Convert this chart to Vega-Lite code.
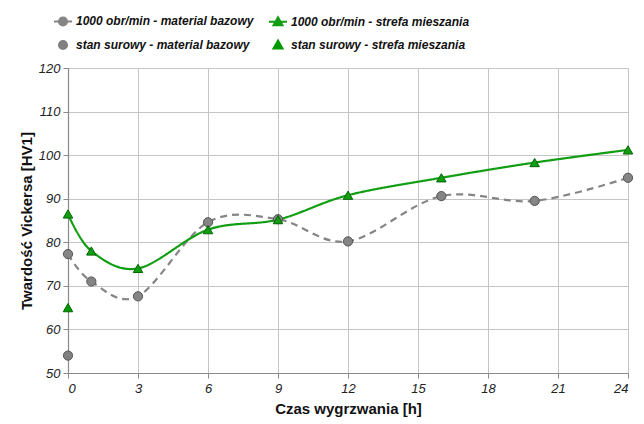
{
  "$schema": "https://vega.github.io/schema/vega-lite/v6.json",
  "width": 560,
  "height": 305,
  "autosize": {"type": "none"},
  "padding": {"left": 68, "top": 68, "right": 16, "bottom": 51},
  "background": "white",
  "config": {
    "font": "Liberation Sans",
    "view": {"stroke": null},
    "axis": {
      "gridColor": "#c4c4c4",
      "gridWidth": 1,
      "domainColor": "#8a8a8a",
      "domainWidth": 1.2,
      "tickColor": "#8a8a8a",
      "tickSize": 5,
      "labelFont": "Liberation Sans",
      "labelFontStyle": "italic",
      "labelFontSize": 13,
      "labelColor": "#222222",
      "titleFont": "Liberation Sans",
      "titleFontSize": 15,
      "titleFontWeight": "bold",
      "titleColor": "#111111"
    }
  },
  "data": {
    "values": [
      {"seria": "1000 obr/min - material bazowy", "t": 0, "hv": 77.3},
      {"seria": "1000 obr/min - material bazowy", "t": 1, "hv": 71.0},
      {"seria": "1000 obr/min - material bazowy", "t": 3, "hv": 67.6},
      {"seria": "1000 obr/min - material bazowy", "t": 6, "hv": 84.6},
      {"seria": "1000 obr/min - material bazowy", "t": 9, "hv": 85.3},
      {"seria": "1000 obr/min - material bazowy", "t": 12, "hv": 80.2},
      {"seria": "1000 obr/min - material bazowy", "t": 16, "hv": 90.6},
      {"seria": "1000 obr/min - material bazowy", "t": 20, "hv": 89.5},
      {"seria": "1000 obr/min - material bazowy", "t": 24, "hv": 94.8},
      {"seria": "1000 obr/min - strefa mieszania", "t": 0, "hv": 86.5},
      {"seria": "1000 obr/min - strefa mieszania", "t": 1, "hv": 78.0},
      {"seria": "1000 obr/min - strefa mieszania", "t": 3, "hv": 74.0},
      {"seria": "1000 obr/min - strefa mieszania", "t": 6, "hv": 82.9},
      {"seria": "1000 obr/min - strefa mieszania", "t": 9, "hv": 85.2},
      {"seria": "1000 obr/min - strefa mieszania", "t": 12, "hv": 90.8},
      {"seria": "1000 obr/min - strefa mieszania", "t": 16, "hv": 94.8},
      {"seria": "1000 obr/min - strefa mieszania", "t": 20, "hv": 98.3},
      {"seria": "1000 obr/min - strefa mieszania", "t": 24, "hv": 101.2},
      {"seria": "stan surowy - material bazowy", "t": 0, "hv": 54.0},
      {"seria": "stan surowy - strefa mieszania", "t": 0, "hv": 65.0}
    ]
  },
  "encoding": {
    "x": {
      "field": "t",
      "type": "quantitative",
      "title": "Czas wygrzwania [h]",
      "scale": {"domain": [0, 24], "nice": false},
      "axis": {"values": [0, 3, 6, 9, 12, 15, 18, 21, 24], "labelPadding": 4, "titlePadding": 6}
    },
    "y": {
      "field": "hv",
      "type": "quantitative",
      "title": "Twardość Vickersa [HV1]",
      "scale": {"domain": [50, 120], "nice": false},
      "axis": {"values": [50, 60, 70, 80, 90, 100, 110, 120], "labelPadding": 3, "titlePadding": 4}
    },
    "color": {
      "field": "seria",
      "type": "nominal",
      "scale": {
        "domain": ["1000 obr/min - material bazowy", "1000 obr/min - strefa mieszania", "stan surowy - material bazowy", "stan surowy - strefa mieszania"],
        "range": ["#858585", "#129e12", "#808080", "#009900"]
      },
      "legend": {
        "title": null,
        "orient": "none",
        "legendX": -15,
        "legendY": -57,
        "direction": "horizontal",
        "columns": 2,
        "columnPadding": 11,
        "rowPadding": 5,
        "symbolSize": 324,
        "symbolStrokeWidth": 2,
        "labelOffset": 3,
        "labelFont": "Liberation Sans",
        "labelFontSize": 12,
        "labelFontWeight": "bold",
        "labelFontStyle": "italic",
        "labelColor": "#111111",
        "labelLimit": 300,
        "encode": {
          "symbols": {
            "update": {
              "shape": {"signal": "indexof(datum.value, '1000') == 0 ? (indexof(datum.value, 'bazowy') > 0 ? 'M-1,0H1M0.45,0A0.45,0.45,0,1,1,-0.45,0A0.45,0.45,0,1,1,0.45,0Z' : 'M-1,0H1M0,-0.5L0.5,0.4L-0.5,0.4Z') : (indexof(datum.value, 'bazowy') > 0 ? 'M0.45,0A0.45,0.45,0,1,1,-0.45,0A0.45,0.45,0,1,1,0.45,0Z' : 'M0,-0.5L0.5,0.4L-0.5,0.4Z')"},
              "size": {"value": 324},
              "strokeWidth": {"value": 2},
              "opacity": {"value": 1}
            }
          }
        }
      }
    }
  },
  "layer": [
    {
      "transform": [{"filter": "indexof(datum.seria, '1000') == 0"}],
      "mark": {"type": "line", "interpolate": "cardinal", "strokeWidth": 2.2},
      "encoding": {
        "strokeDash": {
          "field": "seria",
          "type": "nominal",
          "scale": {
            "domain": ["1000 obr/min - material bazowy", "1000 obr/min - strefa mieszania"],
            "range": [[7, 5], [1, 0]]
          },
          "legend": null
        }
      }
    },
    {
      "transform": [{"filter": "indexof(datum.seria, 'bazowy') > 0"}],
      "mark": {"type": "point", "shape": "circle", "filled": true, "opacity": 1, "size": 85, "stroke": "#555555", "strokeWidth": 1}
    },
    {
      "transform": [{"filter": "indexof(datum.seria, 'mieszania') > 0"}],
      "mark": {"type": "point", "shape": "triangle-up", "filled": true, "opacity": 1, "size": 90, "stroke": "#006400", "strokeWidth": 1}
    }
  ]
}
